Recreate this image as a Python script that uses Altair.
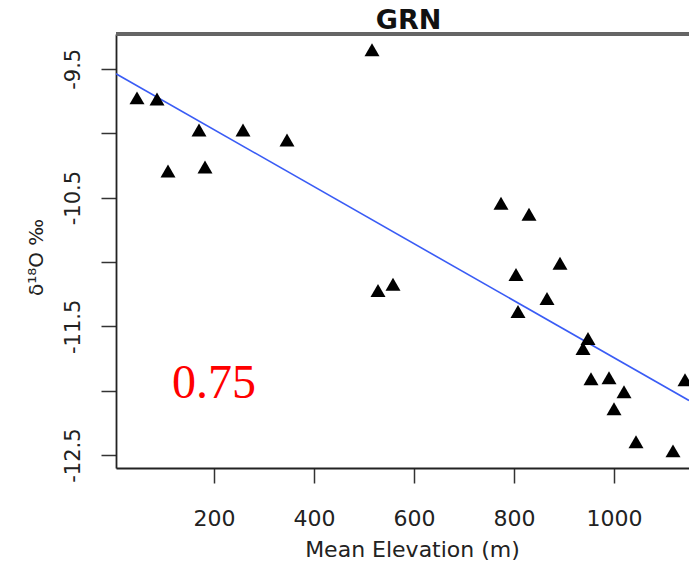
import altair as alt
import pandas as pd

# Data
elevation = [46, 86, 108, 170, 182, 258, 346, 516, 528, 558, 774, 830, 804,
             892, 808, 866, 948, 938, 954, 990, 1020, 1000, 1044, 1118, 1142]
d18o = [-9.726, -9.734, -10.294, -9.975, -10.263, -9.975, -10.053, -9.352,
        -11.221, -11.174, -10.544, -10.629, -11.097, -11.011, -11.385, -11.283,
        -11.595, -11.673, -11.907, -11.899, -12.008, -12.140, -12.397, -12.467,
        -11.914]
x_ticks = [200, 400, 600, 800, 1000]
y_ticks = [-9.5, -10.0, -10.5, -11.0, -11.5, -12.0, -12.5]
x_domain = [4, 1150]
y_domain = [-12.6, -9.23]
annotation = "0.75"
title_text = "GRN"

df = pd.DataFrame({"elev": elevation, "d18O": d18o})

W, H = 573, 434
FONT = "DejaVu Sans"

xscale = alt.Scale(domain=x_domain, nice=False, zero=False)
yscale = alt.Scale(domain=y_domain, nice=False, zero=False)

x_enc = alt.X("elev:Q", scale=xscale,
              axis=alt.Axis(values=x_ticks, format="d", title="Mean Elevation (m)",
                            grid=False, tickSize=15, tickColor="#333", tickWidth=1.5,
                            domainColor="#222", domainWidth=1.8,
                            labelFont=FONT, labelFontSize=22, labelColor="#222",
                            labelBaseline="alphabetic", labelPadding=42,
                            titleFont=FONT, titleFontSize=22, titleFontWeight="normal",
                            titleColor="#222", titleBaseline="alphabetic", titleY=88,
                            titleX=296))
y_enc = alt.Y("d18O:Q", scale=yscale,
              axis=alt.Axis(values=y_ticks, title="δ¹⁸O ‰", grid=False,
                            labelExpr="abs(datum.value*2) % 2 == 1 ? '-' + format(abs(datum.value), '.1f') : ''",
                            tickSize=15, tickColor="#333", tickWidth=1.5,
                            domainColor="#222", domainWidth=1.8,
                            labelFont=FONT, labelFontSize=21, labelColor="#222",
                            labelAngle=-90, labelAlign="center", labelBaseline="alphabetic",
                            labelPadding=22,
                            titleFont=FONT, titleFontSize=20, titleFontWeight="normal",
                            titleColor="#222", titleBaseline="alphabetic", titleAngle=-90,
                            titleAlign="center", titleX=-74, titleY=223))

base = alt.Chart(df)

points = base.mark_point(shape="triangle-up", filled=True, color="black",
                         size=225, opacity=1).encode(x=x_enc, y=y_enc)

line = base.transform_regression("elev", "d18O", extent=x_domain).mark_line(
    color="#3a5cf5", strokeWidth=1.6, clip=True).encode(
    x=alt.X("elev:Q", scale=xscale), y=alt.Y("d18O:Q", scale=yscale))

top_frame = base.mark_rule(color="#666", strokeWidth=2.5).encode(
    x=alt.value(0), x2=alt.value(W), y=alt.value(0))

label = alt.Chart(pd.DataFrame({"t": [annotation]})).mark_text(
    font="Liberation Serif", fontSize=48, color="#ff0000",
    align="center", baseline="alphabetic").encode(
    text="t:N", x=alt.value(98), y=alt.value(364))

chart = alt.layer(line, points, top_frame, label).properties(
    width=W, height=H,
    title=alt.Title(title_text, font=FONT, fontSize=27, fontWeight="bold",
                    color="#111", offset=3, anchor="middle", dx=6, dy=5),
    autosize=alt.AutoSizeParams(type="none"),
    padding={"left": 108, "top": 26, "right": 0, "bottom": 96},
).configure_view(stroke=None).configure(background="white")

chart.save("out.html", embed_options={"renderer": "svg", "actions": False})
